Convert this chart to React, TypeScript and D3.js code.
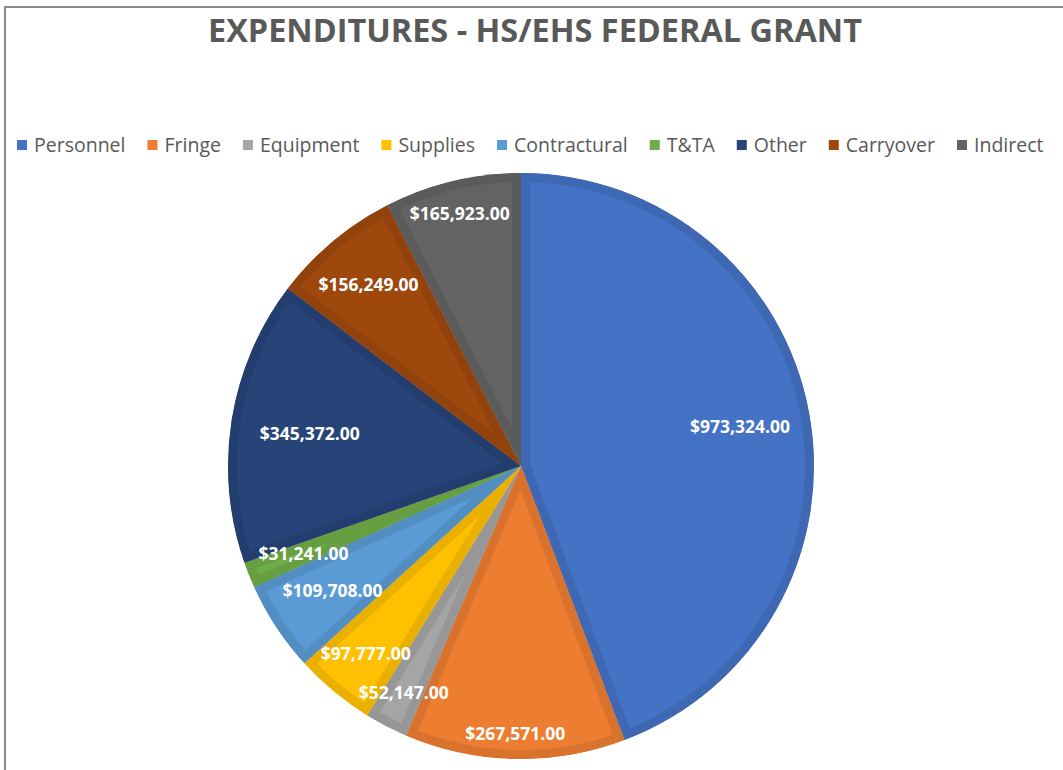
import React, { useEffect, useRef } from "react";
import * as d3 from "d3";

const title = "EXPENDITURES - HS/EHS FEDERAL GRANT";
const categories = ["Personnel", "Fringe", "Equipment", "Supplies", "Contractural", "T&TA", "Other", "Carryover", "Indirect"];
const values = [973324, 267571, 52147, 97777, 109708, 31241, 345372, 156249, 165923];
const colors = ["#4472C4", "#ED7D31", "#A5A5A5", "#FFC000", "#5B9BD5", "#70AD47", "#264478", "#9E480E", "#636363"];
const labelRadius = [0.76, 0.91, 0.87, 0.83, 0.77, 0.8, 0.73, 0.81, 0.89];

export default function App() {
  const ref = useRef<SVGSVGElement>(null);
  useEffect(() => {
    const svg = d3.select(ref.current);
    svg.selectAll("*").remove();
    svg.append("rect").attr("x", 5).attr("y", 7).attr("width", 1200).attr("height", 900)
      .attr("fill", "#fff").attr("stroke", "#8a8a8a").attr("stroke-width", 2);
    svg.append("text").attr("x", 535).attr("y", 42).attr("text-anchor", "middle")
      .attr("font-family", "'Open Sans', sans-serif").attr("font-weight", 700).attr("font-size", 33)
      .attr("fill", "#595959").attr("textLength", 654).attr("lengthAdjust", "spacingAndGlyphs").text(title);

    const lg = svg.append("g");
    let x = 17;
    categories.forEach((c, i) => {
      lg.append("rect").attr("x", x).attr("y", 140).attr("width", 10).attr("height", 10).attr("fill", colors[i]);
      const t = lg.append("text").attr("x", x + 17).attr("y", 151.5)
        .attr("font-family", "'Open Sans', sans-serif").attr("font-size", 19.5).attr("fill", "#595959").text(c);
      const w = (t.node() as SVGTextElement).getComputedTextLength();
      x += 17 + w + 22;
    });

    const cx = 521, cy = 466, R = 293;
    const pie = d3.pie<number>().sort(null).value((d) => d);
    const arcs = pie(values);
    const arc = d3.arc<d3.PieArcDatum<number>>().innerRadius(0).outerRadius(R);
    const defs = svg.append("defs");
    const g = svg.append("g").attr("transform", `translate(${cx},${cy})`);
    arcs.forEach((a, i) => {
      const id = `clip-slice-${i}`;
      defs.append("clipPath").attr("id", id).append("path").attr("d", arc(a)!);
      g.append("path").attr("d", arc(a)!).attr("fill", colors[i])
        .attr("stroke", d3.rgb(colors[i]).darker(0.25).formatHex()).attr("stroke-width", 18)
        .attr("stroke-linejoin", "round").attr("clip-path", `url(#${id})`);
    });
    arcs.forEach((a, i) => {
      const mid = (a.startAngle + a.endAngle) / 2;
      const r = labelRadius[i] * R;
      g.append("text").attr("x", r * Math.sin(mid)).attr("y", -r * Math.cos(mid))
        .attr("text-anchor", "middle").attr("dominant-baseline", "central")
        .attr("font-family", "'Open Sans', sans-serif").attr("font-weight", 700).attr("font-size", 17.5)
        .attr("fill", "#fff").text("$" + d3.format(",.2f")(values[i]));
    });
  }, []);
  return (
    <svg ref={ref} width={1063} height={770}
      style={{ position: "absolute", left: 0, top: 0, background: "#fff" }} />
  );
}
